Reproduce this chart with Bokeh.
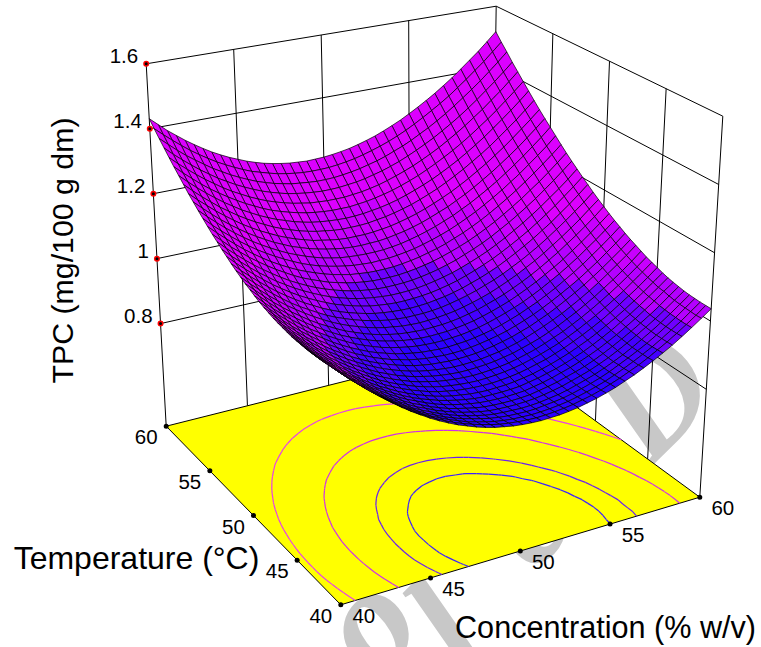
from bokeh.plotting import figure
from bokeh.embed import file_html
from bokeh.resources import INLINE
from bokeh.core.properties import value

concentration = [40+0.5*i for i in range(41)]
temperature = [40+0.5*i for i in range(41)]
# TPC, in thousandths; one row per temperature, one column per concentration
tpc_milli = [
[1140,1113,1088,1064,1041,1020,999,980,962,946,930,916,903,891,881,871,863,856,851,846,843,841,840,841,842,845,849,855,861,869,878,889,900,913,927,942,958,976,995,1015,1036],
[1135,1108,1083,1059,1036,1015,995,976,958,941,926,912,899,887,877,868,860,853,847,843,840,838,837,838,840,843,847,853,859,867,877,887,899,911,925,941,957,975,994,1014,1036],
[1130,1104,1079,1055,1032,1011,991,972,954,938,922,908,896,884,874,864,857,850,844,840,837,836,835,836,838,841,845,851,858,866,875,886,898,911,925,940,957,975,994,1015,1036],
[1126,1100,1075,1051,1029,1008,988,969,951,935,919,905,893,881,871,862,855,848,842,838,835,834,833,834,837,840,844,850,857,865,874,885,898,911,925,940,957,975,995,1016,1037],
[1123,1097,1072,1048,1026,1005,985,966,948,932,916,903,891,879,869,860,852,846,840,836,834,833,832,833,835,839,843,849,857,865,874,885,897,910,925,941,958,976,996,1017,1038],
[1120,1094,1070,1046,1024,1003,983,964,946,930,915,901,890,878,868,859,851,845,839,835,833,832,832,833,835,839,844,850,858,866,875,886,898,912,927,943,960,978,998,1019,1040],
[1118,1092,1068,1044,1022,1001,982,963,945,929,914,900,889,877,867,858,851,845,839,835,833,832,832,833,835,840,845,851,859,867,876,887,900,914,929,945,962,980,1000,1022,1043],
[1117,1091,1067,1043,1021,1000,981,962,945,929,914,900,889,877,867,858,851,845,840,836,834,833,833,834,836,841,846,853,861,869,879,890,902,916,931,948,965,984,1004,1026,1046],
[1117,1091,1066,1043,1020,1000,981,962,944,929,914,900,888,877,868,859,852,846,841,837,835,835,835,836,838,843,848,855,862,871,881,892,905,919,934,951,968,987,1007,1028,1050],
[1117,1091,1066,1043,1021,1000,981,962,945,929,915,901,889,878,869,860,853,847,843,839,837,836,837,838,841,845,850,857,865,874,884,896,908,922,938,954,972,991,1011,1033,1055],
[1117,1092,1067,1044,1022,1001,982,964,947,931,916,903,891,880,871,862,855,850,845,842,840,839,839,841,844,848,854,861,868,878,888,900,913,927,942,959,977,996,1016,1038,1061],
[1119,1093,1069,1045,1024,1003,983,965,949,933,918,905,893,883,873,865,858,852,848,845,843,842,843,845,848,852,858,865,873,882,892,904,917,932,947,964,982,1001,1022,1044,1067],
[1121,1095,1071,1048,1026,1005,986,968,951,935,921,908,896,886,876,868,862,856,852,849,847,846,847,849,852,856,862,869,877,887,898,909,923,937,953,970,988,1007,1028,1050,1073],
[1123,1098,1073,1050,1029,1008,989,971,954,939,925,911,900,889,880,872,866,860,856,853,851,851,852,854,857,862,867,875,883,892,903,915,929,943,959,976,995,1014,1035,1057,1081],
[1126,1101,1077,1054,1032,1012,992,975,958,943,929,916,904,894,885,877,870,865,861,858,856,856,857,859,863,867,873,880,889,899,910,922,935,950,966,983,1002,1022,1043,1065,1089],
[1130,1105,1081,1058,1036,1016,997,979,963,947,933,920,909,899,890,882,875,870,866,864,862,862,863,865,869,874,880,887,896,905,917,929,943,958,974,991,1010,1030,1051,1073,1097],
[1134,1109,1085,1062,1041,1021,1002,984,968,952,938,926,914,904,895,888,881,876,872,870,868,868,869,872,876,881,887,894,903,913,924,937,951,966,982,999,1018,1038,1060,1082,1106],
[1139,1114,1090,1068,1046,1026,1007,990,973,958,944,932,920,910,902,894,888,883,879,877,875,875,877,879,883,888,894,902,911,921,933,945,959,974,991,1008,1027,1048,1069,1092,1116],
[1145,1120,1096,1074,1052,1032,1013,996,980,965,951,938,927,917,908,901,895,890,886,884,883,883,885,887,891,896,903,911,920,930,941,954,968,984,1000,1018,1037,1058,1079,1102,1126],
[1152,1127,1103,1080,1059,1039,1020,1003,987,972,958,946,935,925,916,909,903,898,894,892,891,892,893,896,900,905,912,920,929,939,951,964,978,994,1010,1028,1048,1068,1090,1113,1137],
[1158,1134,1110,1087,1066,1046,1028,1010,994,980,966,953,943,933,924,917,911,906,903,901,900,901,902,905,909,915,921,930,939,949,961,974,988,1004,1021,1039,1059,1079,1101,1124,1149],
[1166,1141,1118,1095,1074,1054,1036,1019,1003,988,974,962,951,942,933,926,920,916,912,910,909,910,912,915,919,925,932,940,949,960,972,985,1000,1015,1032,1051,1070,1091,1113,1137,1161],
[1174,1150,1126,1104,1083,1063,1044,1027,1012,997,983,971,961,951,943,936,930,925,922,920,920,920,922,925,930,936,943,951,961,971,983,997,1011,1027,1044,1063,1083,1104,1126,1149,1174],
[1183,1158,1135,1113,1092,1072,1054,1037,1021,1007,993,981,970,961,953,946,940,936,933,931,930,931,933,937,941,947,954,963,972,983,995,1009,1024,1040,1057,1076,1095,1117,1139,1163,1188],
[1193,1168,1145,1123,1102,1082,1064,1047,1031,1017,1004,992,981,972,964,957,951,947,944,942,942,943,945,948,953,959,966,975,985,996,1008,1022,1037,1053,1070,1089,1109,1130,1153,1177,1202],
[1203,1178,1155,1133,1112,1093,1074,1058,1042,1028,1015,1003,992,983,975,968,963,959,956,954,954,955,957,961,966,972,979,988,998,1009,1021,1035,1050,1067,1084,1103,1123,1145,1167,1191,1217],
[1214,1189,1166,1144,1123,1104,1086,1069,1053,1039,1026,1014,1004,995,987,980,975,971,968,967,967,968,970,974,979,985,993,1001,1012,1023,1035,1049,1065,1081,1099,1118,1138,1160,1183,1207,1232],
[1225,1201,1177,1156,1135,1116,1098,1081,1066,1051,1038,1027,1017,1007,1000,993,988,984,981,980,980,981,984,988,993,999,1007,1016,1026,1037,1050,1064,1079,1096,1114,1133,1154,1175,1198,1223,1248],
[1237,1213,1190,1168,1147,1128,1110,1093,1078,1064,1051,1040,1030,1021,1013,1007,1001,998,995,994,994,995,998,1002,1007,1014,1021,1030,1041,1052,1065,1079,1095,1112,1130,1149,1170,1192,1215,1239,1265],
[1250,1225,1202,1181,1160,1141,1123,1107,1092,1078,1065,1053,1043,1034,1027,1021,1016,1012,1010,1008,1009,1010,1013,1017,1022,1029,1037,1046,1056,1068,1081,1095,1111,1128,1146,1166,1186,1209,1232,1256,1283],
[1263,1239,1216,1194,1174,1155,1137,1121,1106,1092,1079,1068,1058,1049,1041,1035,1030,1027,1025,1024,1024,1025,1028,1032,1038,1045,1053,1062,1073,1084,1098,1112,1128,1145,1163,1183,1204,1226,1250,1274,1301],
[1277,1253,1230,1208,1188,1169,1151,1135,1120,1106,1094,1082,1073,1064,1057,1051,1046,1042,1040,1039,1040,1041,1044,1049,1054,1061,1069,1079,1090,1101,1115,1129,1145,1163,1181,1201,1222,1244,1268,1293,1319],
[1291,1267,1245,1223,1203,1184,1166,1150,1135,1122,1109,1098,1088,1080,1072,1067,1062,1058,1056,1056,1056,1058,1061,1065,1071,1078,1086,1096,1107,1119,1132,1147,1163,1181,1199,1219,1240,1263,1287,1312,1338],
[1307,1283,1260,1239,1218,1200,1182,1166,1151,1138,1125,1114,1105,1096,1089,1083,1079,1075,1073,1073,1073,1075,1079,1083,1089,1096,1104,1114,1125,1137,1151,1166,1182,1200,1218,1238,1260,1283,1306,1332,1358],
[1323,1299,1276,1255,1235,1216,1199,1182,1168,1154,1142,1131,1122,1113,1106,1100,1096,1093,1091,1090,1091,1093,1097,1101,1107,1114,1123,1133,1144,1156,1170,1185,1201,1219,1238,1258,1280,1303,1327,1352,1379],
[1339,1315,1293,1271,1251,1233,1216,1200,1185,1172,1159,1148,1139,1131,1124,1118,1114,1111,1109,1109,1109,1112,1115,1120,1126,1133,1142,1152,1163,1176,1190,1205,1221,1239,1258,1279,1300,1323,1348,1373,1400],
[1356,1332,1310,1289,1269,1251,1233,1217,1203,1189,1177,1166,1157,1149,1142,1137,1132,1130,1128,1128,1128,1131,1134,1139,1145,1153,1162,1172,1183,1196,1210,1225,1242,1260,1279,1300,1321,1345,1369,1395,1422],
[1374,1350,1328,1307,1287,1269,1251,1236,1221,1208,1196,1185,1176,1168,1161,1156,1152,1149,1147,1147,1148,1151,1154,1159,1166,1173,1182,1192,1204,1217,1231,1246,1263,1281,1300,1321,1343,1367,1391,1417,1444],
[1392,1369,1346,1325,1306,1288,1270,1255,1240,1227,1215,1204,1195,1187,1181,1175,1172,1169,1167,1167,1168,1171,1175,1180,1187,1194,1203,1214,1225,1238,1253,1268,1285,1303,1323,1344,1366,1389,1414,1440,1468],
[1411,1388,1366,1345,1325,1307,1290,1274,1260,1247,1235,1224,1216,1208,1201,1196,1192,1189,1188,1188,1189,1192,1196,1201,1208,1216,1225,1235,1247,1260,1275,1291,1308,1326,1345,1367,1389,1413,1437,1464,1491],
[1431,1408,1385,1365,1345,1327,1310,1294,1280,1267,1256,1245,1236,1228,1222,1217,1213,1211,1209,1210,1211,1214,1218,1223,1230,1238,1247,1258,1270,1283,1298,1314,1331,1349,1369,1390,1413,1437,1461,1488,1516],
]
contour_levels = [878.5, 912.5, 990.5, 1097.5]
contour_colors = ["#3c20ff", "#6a20f0", "#d030e8", "#e840e8"]
band_limits = [890, 940, 990, 1050, 1110]
band_colors = ["#2c00ff", "#4400ff", "#6e00ff", "#b400ff", "#c800ff", "#dc00ff"]
z_ticks = [0.8, 1.0, 1.2, 1.4, 1.6]
z_labels = ["0.8", "1", "1.2", "1.4", "1.6"]
conc_ticks = [40, 45, 50, 55, 60]
temp_ticks = [40, 45, 50, 55, 60]
z_floor, z_top = 0.484, 1.6

# camera: screen position of the eight corners of the plot box
FLOOR = {(0,0):(340.3,604.3),(1,0):(699.3,496.7),(0,1):(165.7,425.7),(1,1):(490.6,344.0)}
TOP = {(0,0):(332.8,199.0),(1,0):(722.3,115.7),(0,1):(145.7,63.3),(1,1):(495.7,5.7)}

def proj(c, t, z):
    a, b, h = (c-40)/20, (t-40)/20, (z-z_floor)/(z_top-z_floor)
    out = [0.0, 0.0]
    for i in (0,1):
        for j in (0,1):
            w = (a if i else 1-a)*(b if j else 1-b)
            for d in (0,1):
                out[d] += w*((1-h)*FLOOR[(i,j)][d] + h*TOP[(i,j)][d])
    return out

p = figure(width=761, height=647, x_range=(0,761), y_range=(647,0), toolbar_location=None,
           output_backend="svg", x_axis_type=None, y_axis_type=None, min_border=0,
           outline_line_color=None, background_fill_color="white", border_fill_color="white")
p.grid.visible = False

# watermark
p.text(x=[365,444,520,650], y=[620,626,515,395], text=["o","l","e","D"], angle=[0.785]*4, text_color="#c8c8c8",
       text_font=value("Liberation Serif"), text_font_style="bold italic",
       text_font_size="150px", text_align="center", text_baseline="middle")

def seg(a, b, **k):
    p.line([a[0],b[0]],[a[1],b[1]], line_color="black", **k)

# walls
for z in z_ticks:
    seg(proj(40,60,z), proj(60,60,z), line_width=1)
    seg(proj(60,60,z), proj(60,40,z), line_width=1)
for v in conc_ticks:
    seg(proj(v,60,z_floor), proj(v,60,z_top), line_width=1)
for v in temp_ticks[:-1]:
    seg(proj(60,v,z_floor), proj(60,v,z_top), line_width=1)
# floor
corners = [proj(40,40,z_floor),proj(60,40,z_floor),proj(60,60,z_floor),proj(40,60,z_floor)]
p.patch([q[0] for q in corners],[q[1] for q in corners], fill_color="#ffff00", line_color="black", line_width=1)

# contours on the floor, from the table
for lev, col in zip(contour_levels, contour_colors):
    xs, ys = [], []
    for j in range(len(temperature)-1):
        for i in range(len(concentration)-1):
            cell = [(concentration[i],temperature[j],tpc_milli[j][i]),
                    (concentration[i+1],temperature[j],tpc_milli[j][i+1]),
                    (concentration[i+1],temperature[j+1],tpc_milli[j+1][i+1]),
                    (concentration[i],temperature[j+1],tpc_milli[j+1][i])]
            pts = []
            for n in range(4):
                u, w = cell[n], cell[(n+1)%4]
                if (u[2]-lev)*(w[2]-lev) < 0:
                    f = (lev-u[2])/(w[2]-u[2])
                    pts.append(proj(u[0]+f*(w[0]-u[0]), u[1]+f*(w[1]-u[1]), z_floor))
            if len(pts) == 2:
                xs.append([pts[0][0],pts[1][0]]); ys.append([pts[0][1],pts[1][1]])
    p.multi_line(xs, ys, line_color=col, line_width=1.2)

# surface
cells = []
for j in range(len(temperature)-1):
    for i in range(len(concentration)-1):
        cells.append((i+j, i, j))
cells.sort(reverse=True)
xs, ys, fc = [], [], []
for _, i, j in cells:
    idx = [(i,j),(i+1,j),(i+1,j+1),(i,j+1)]
    q = [proj(concentration[m],temperature[n],tpc_milli[n][m]/1000) for m,n in idx]
    xs.append([r[0] for r in q]); ys.append([r[1] for r in q])
    zm = sum(tpc_milli[n][m] for m,n in idx)/4
    k = sum(zm >= lim for lim in band_limits)
    fc.append(band_colors[k])
p.patches(xs=xs, ys=ys, fill_color=fc, line_color="black", line_width=0.7)

# ticks
zp = [proj(40,60,z) for z in z_ticks]
p.scatter([q[0] for q in zp],[q[1] for q in zp], size=6, fill_color="#ff0000", line_color=None)
p.scatter([q[0] for q in zp],[q[1] for q in zp], size=3, fill_color="black", line_color=None)
fp = [proj(v,40,z_floor) for v in conc_ticks]+[proj(40,v,z_floor) for v in temp_ticks[1:]]
p.scatter([q[0] for q in fp],[q[1] for q in fp], size=5, fill_color="black", line_color=None)

TK = dict(text_font=value("Liberation Sans"), text_font_size="20.5px", text_color="black")
p.text([q[0]-8 for q in zp],[q[1]-8 for q in zp], text=z_labels, text_align="right", text_baseline="middle", **TK)
tp = [proj(40,v,z_floor) for v in temp_ticks]
p.text([q[0]-20 for q in tp],[q[1]+11 for q in tp], text=[str(v) for v in temp_ticks], text_align="center", text_baseline="middle", **TK)
cp = [proj(v,40,z_floor) for v in conc_ticks]
p.text([q[0]+23 for q in cp],[q[1]+11 for q in cp], text=[str(v) for v in conc_ticks], text_align="center", text_baseline="middle", **TK)

TT = dict(text_font=value("Liberation Sans"), text_color="black", text_align="center", text_baseline="middle")
p.text([605],[626], text=["Concentration (% w/v)"], text_font_size="30.6px", **TT)
p.text([136],[557], text=["Temperature (°C)"], text_font_size="32px", **TT)
p.text([62],[250], text=["TPC (mg/100 g dm)"], angle=[1.5708], text_font_size="30.3px", **TT)

open("out.html","w").write(file_html(p, INLINE))
